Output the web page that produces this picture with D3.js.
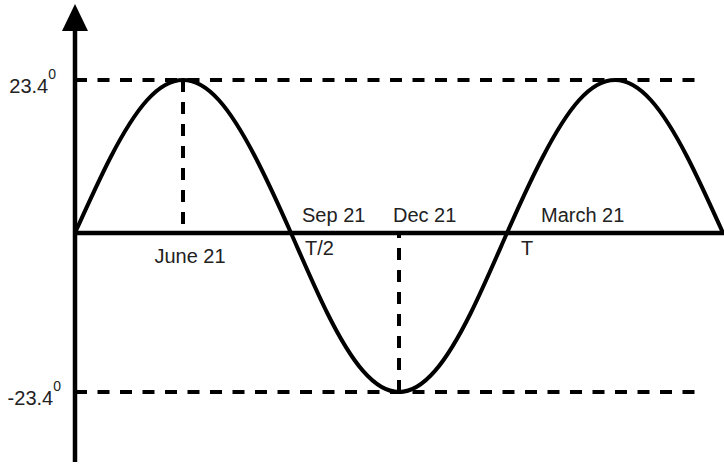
<!DOCTYPE html>
<html>
<head>
<meta charset="utf-8">
<script src="https://cdn.jsdelivr.net/npm/d3@7"></script>
<style>
  html, body { margin: 0; padding: 0; background: #fff; }
  svg { display: block; }
  .lbl { font-family: "Liberation Sans", Arial, sans-serif; font-size: 20px; fill: #222; }
</style>
</head>
<body>
<div id="chart"></div>
<script>
// Data: solar declination (degrees), one point per month starting at March 21
const months = [0, 1, 2, 3, 4, 5, 6, 7, 8, 9, 10, 11, 12, 13, 14, 15, 16, 17, 18];
const declination = [0, 11.7, 20.3, 23.4, 20.3, 11.7, 0, -11.7, -20.3, -23.4, -20.3, -11.7, 0, 11.7, 20.3, 23.4, 20.3, 11.7, 0];

const limitTicks = [23.4, -23.4];
const limitLabels = ["23.4", "-23.4"];

const dateLabels = ["June 21", "Sep 21", "Dec 21", "March 21"];
const dateMonths = [3, 6, 9, 12];

const periodLabels = ["T/2", "T"];
const periodMonths = [6, 12];

const width = 724;
const height = 466;

const svg = d3.select("#chart")
  .append("svg")
  .attr("width", width)
  .attr("height", height);

// Scales
const x = d3.scaleLinear()
  .domain([0, 18])
  .range([75, 723]);

const y = d3.scaleLinear()
  .domain([-23.4, 0, 23.4])
  .range([392, 233, 80]);

const x0 = x(0);

// Dashed limit lines
svg.selectAll(".limit")
  .data(limitTicks)
  .enter().append("line")
  .attr("class", "limit")
  .attr("x1", x0)
  .attr("x2", (d, i) => i === 0 ? 700 : 702)
  .attr("y1", d => y(d))
  .attr("y2", d => y(d))
  .attr("stroke", "#000")
  .attr("stroke-width", 4)
  .attr("stroke-dasharray", "12,10.5");

// Vertical dashed drops at solstices
const solstices = [3, 9];
svg.selectAll(".drop")
  .data(solstices)
  .enter().append("line")
  .attr("class", "drop")
  .attr("x1", d => x(d))
  .attr("x2", d => x(d))
  .attr("y1", d => y(declination[months.indexOf(d)]))
  .attr("y2", y(0))
  .attr("stroke", "#000")
  .attr("stroke-width", 4)
  .attr("stroke-dasharray", "12,10");

// Zero line
svg.append("line")
  .attr("x1", x0)
  .attr("x2", width)
  .attr("y1", y(0))
  .attr("y2", y(0))
  .attr("stroke", "#000")
  .attr("stroke-width", 4.5);

// Y axis with arrow
svg.append("line")
  .attr("x1", x0)
  .attr("x2", x0)
  .attr("y1", 28)
  .attr("y2", 462)
  .attr("stroke", "#000")
  .attr("stroke-width", 4.5);

svg.append("path")
  .attr("d", `M${x0},4 L${x0 + 13},31 L${x0 - 13},31 Z`)
  .attr("fill", "#000");

// Declination curve
const line = d3.line()
  .x((d, i) => x(months[i]))
  .y(d => y(d))
  .curve(d3.curveNatural);

svg.append("path")
  .datum(declination)
  .attr("d", line)
  .attr("fill", "none")
  .attr("stroke", "#000")
  .attr("stroke-width", 4);

// Limit labels with superscript degree
const lim = svg.selectAll(".limlbl")
  .data(limitTicks)
  .enter().append("text")
  .attr("class", "lbl")
  .attr("text-anchor", "end")
  .attr("x", (d, i) => i === 0 ? 56 : 61)
  .attr("y", d => y(d) + 13);

lim.append("tspan")
  .text((d, i) => limitLabels[i]);

lim.append("tspan")
  .attr("dy", -14)
  .style("font-size", "14px")
  .text("0");

// Date labels
const dateOffsets = [
  { dx: 7, dy: 30, anchor: "middle" },
  { dx: 11, dy: -11, anchor: "start" },
  { dx: -6, dy: -11, anchor: "start" },
  { dx: 34, dy: -11, anchor: "start" }
];

svg.selectAll(".date")
  .data(dateLabels)
  .enter().append("text")
  .attr("class", "lbl")
  .attr("text-anchor", (d, i) => dateOffsets[i].anchor)
  .attr("x", (d, i) => x(dateMonths[i]) + dateOffsets[i].dx)
  .attr("y", (d, i) => y(0) + dateOffsets[i].dy)
  .text(d => d);

// Period labels
svg.selectAll(".period")
  .data(periodLabels)
  .enter().append("text")
  .attr("class", "lbl")
  .attr("x", (d, i) => x(periodMonths[i]) + 14)
  .attr("y", y(0) + 22)
  .text(d => d);
</script>
</body>
</html>
